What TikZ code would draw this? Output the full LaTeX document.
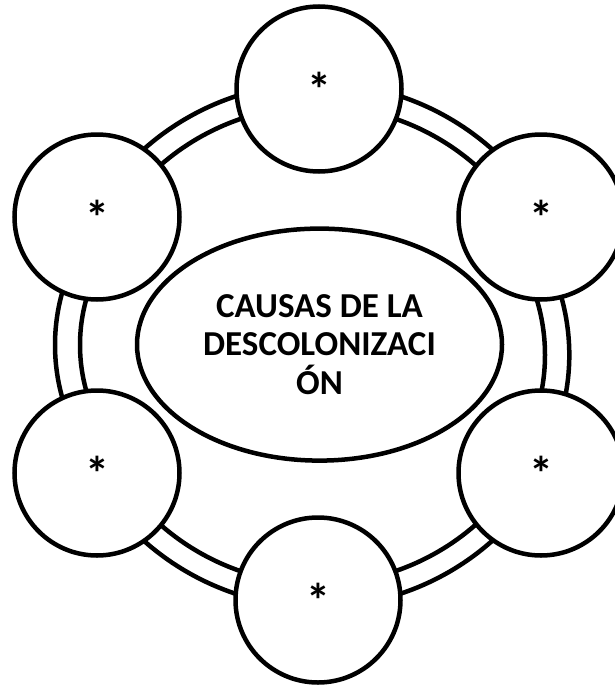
\documentclass[tikz,border=0pt]{standalone}
\usepackage{fontspec}
\setmainfont{Carlito}
\usetikzlibrary{shapes.geometric}
\tikzset{
  ringline/.style={draw=black, line width=4.5pt},
  cnode/.style={circle, draw=black, line width=4.5pt, fill=white, minimum size=165pt, inner sep=0pt,
    font=\bfseries\fontsize{48}{50}\selectfont},
  mainnode/.style={ellipse, draw=black, line width=4.5pt, fill=white, minimum width=365pt, minimum height=232pt,
    inner sep=0pt, align=center, font=\bfseries\fontsize{35}{38.3}\selectfont}
}
\begin{document}
\begin{tikzpicture}[x=1pt, y=-1pt]
\useasboundingbox (0,0) rectangle (615,685);
\clip (0,0) rectangle (615,685);
\coordinate (O) at (318,345);
\coordinate (OL) at (250,345);
\coordinate (OR) at (354.3,355);
% diagonal ring segments (upper and lower)
\draw[ringline] (O) ++(-150:262) arc[start angle=-150, end angle=-30, radius=262];
\draw[ringline] (O) ++(-150:239) arc[start angle=-150, end angle=-30, radius=239];
\draw[ringline] (O) ++(30:262) arc[start angle=30, end angle=150, radius=262];
\draw[ringline] (O) ++(30:239) arc[start angle=30, end angle=150, radius=239];
% left vertical segment
\draw[ringline] (OL) ++(160:195) arc[start angle=160, end angle=200, radius=195];
\draw[ringline] (OL) ++(160:170) arc[start angle=160, end angle=200, radius=170];
% right vertical segment
\draw[ringline] (OR) ++(-20:215) arc[start angle=-20, end angle=20, radius=215];
\draw[ringline] (OR) ++(-20:190.7) arc[start angle=-20, end angle=20, radius=190.7];
% outer circles
\node[cnode] (t)  at (319,89)  {*};
\node[cnode] (lt) at (97,217)  {*};
\node[cnode] (rt) at (541,217) {*};
\node[cnode] (lb) at (97,473)  {*};
\node[cnode] (rb) at (541,473) {*};
\node[cnode] (b)  at (318,600) {*};
% centre
\node[mainnode] (c) at (319.5,344.6) {CAUSAS DE LA\\DESCOLONIZACI\\ÓN};
\end{tikzpicture}
\end{document}
